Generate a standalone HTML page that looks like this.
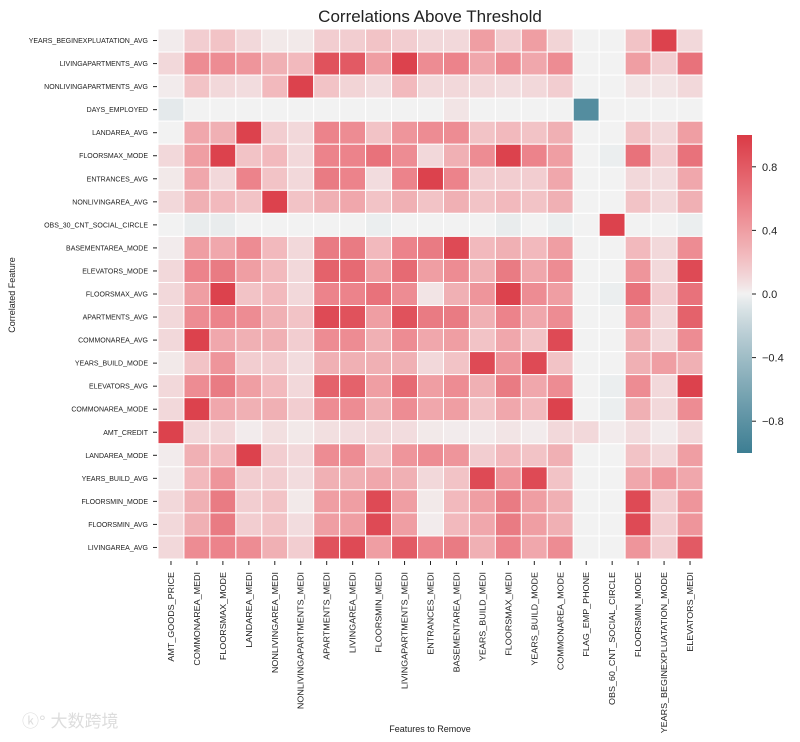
<!DOCTYPE html>
<html><head><meta charset="utf-8"><style>
body{margin:0;background:#fff;}
svg{display:block;font-family:"Liberation Sans","Noto Sans CJK SC",sans-serif;}
</style></head><body>
<svg id="chart" width="800" height="742" viewBox="0 0 800 742">
<text x="430" y="22" text-anchor="middle" font-size="17" fill="#222">Correlations Above Threshold</text>
<text transform="translate(15,295) rotate(-90)" text-anchor="middle" font-size="9" fill="#222">Correlated Feature</text>
<text x="430" y="732" text-anchor="middle" font-size="9" fill="#222">Features to Remove</text>
<text x="22" y="727" font-size="17" fill="#ddd">ⓚ° 大数跨境</text>
<g id="cells"></g>
<g id="ylabels"></g>
<g id="xlabels"></g>
<g id="cbar"></g>
</svg>
<script>
const rowLabels = ["YEARS_BEGINEXPLUATATION_AVG","LIVINGAPARTMENTS_AVG","NONLIVINGAPARTMENTS_AVG","DAYS_EMPLOYED","LANDAREA_AVG","FLOORSMAX_MODE","ENTRANCES_AVG","NONLIVINGAREA_AVG","OBS_30_CNT_SOCIAL_CIRCLE","BASEMENTAREA_MODE","ELEVATORS_MODE","FLOORSMAX_AVG","APARTMENTS_AVG","COMMONAREA_AVG","YEARS_BUILD_MODE","ELEVATORS_AVG","COMMONAREA_MODE","AMT_CREDIT","LANDAREA_MODE","YEARS_BUILD_AVG","FLOORSMIN_MODE","FLOORSMIN_AVG","LIVINGAREA_AVG"];
const colLabels = ["AMT_GOODS_PRICE","COMMONAREA_MEDI","FLOORSMAX_MODE","LANDAREA_MEDI","NONLIVINGAREA_MEDI","NONLIVINGAPARTMENTS_MEDI","APARTMENTS_MEDI","LIVINGAREA_MEDI","FLOORSMIN_MEDI","LIVINGAPARTMENTS_MEDI","ENTRANCES_MEDI","BASEMENTAREA_MEDI","YEARS_BUILD_MEDI","FLOORSMAX_MEDI","YEARS_BUILD_MODE","COMMONAREA_MODE","FLAG_EMP_PHONE","OBS_60_CNT_SOCIAL_CIRCLE","FLOORSMIN_MODE","YEARS_BEGINEXPLUATATION_MODE","ELEVATORS_MEDI"];
const values = [
[0.02,0.15,0.2,0.1,0.03,0.03,0.15,0.15,0.2,0.15,0.1,0.1,0.4,0.15,0.4,0.12,0,0,0.2,0.95,0.1],
[0.1,0.5,0.5,0.45,0.3,0.25,0.85,0.8,0.4,0.95,0.5,0.55,0.35,0.5,0.35,0.5,0,0,0.4,0.15,0.65],
[0.02,0.2,0.1,0.08,0.25,0.95,0.2,0.12,0.08,0.25,0.1,0.1,0.1,0.08,0.1,0.15,0,0,0.05,0.05,0.1],
[-0.05,0,0,0,0,0,0,0,0,0,0,0.05,0,0,0,0,-0.85,0,0,0,0],
[0,0.35,0.3,0.95,0.15,0.1,0.55,0.5,0.2,0.45,0.5,0.5,0.2,0.25,0.2,0.3,0,0,0.2,0.1,0.4],
[0.1,0.4,0.95,0.2,0.25,0.1,0.55,0.55,0.65,0.5,0.1,0.3,0.5,0.95,0.55,0.4,0,-0.02,0.65,0.15,0.65],
[0.03,0.35,0.1,0.55,0.2,0.1,0.6,0.55,0.08,0.55,0.95,0.55,0.15,0.15,0.15,0.35,0,0,0.1,0.08,0.35],
[0.1,0.3,0.25,0.2,0.95,0.2,0.3,0.35,0.2,0.3,0.2,0.3,0.2,0.25,0.2,0.3,0,0,0.2,0.1,0.3],
[0,-0.03,-0.03,0,0,0,0,0,-0.02,0,0,0,0,-0.03,0,-0.02,0,0.95,0,0,-0.02],
[0.02,0.4,0.35,0.5,0.25,0.1,0.6,0.6,0.25,0.55,0.6,0.9,0.25,0.3,0.25,0.4,0,0,0.25,0.1,0.5],
[0.1,0.55,0.6,0.4,0.25,0.1,0.75,0.7,0.4,0.7,0.4,0.5,0.3,0.6,0.35,0.5,0,0,0.45,0.1,0.9],
[0.1,0.4,0.95,0.2,0.25,0.1,0.55,0.55,0.65,0.5,0.05,0.3,0.45,0.95,0.5,0.4,0,-0.02,0.65,0.15,0.65],
[0.1,0.5,0.55,0.5,0.3,0.2,0.9,0.85,0.4,0.85,0.6,0.6,0.3,0.55,0.35,0.5,0,0,0.45,0.1,0.75],
[0.1,0.95,0.35,0.3,0.3,0.15,0.5,0.5,0.3,0.5,0.35,0.4,0.2,0.35,0.2,0.9,0,0,0.3,0.1,0.5],
[0.03,0.2,0.45,0.15,0.15,0.08,0.3,0.3,0.3,0.3,0.1,0.2,0.9,0.45,0.9,0.2,0,0,0.3,0.4,0.3],
[0.1,0.5,0.6,0.4,0.25,0.1,0.75,0.75,0.4,0.7,0.4,0.5,0.3,0.6,0.35,0.5,0,-0.02,0.5,0.1,0.95],
[0.1,0.95,0.35,0.3,0.3,0.15,0.5,0.5,0.3,0.5,0.35,0.4,0.2,0.35,0.25,0.95,0,-0.02,0.3,0.1,0.5],
[0.95,0.1,0.1,0.02,0.07,0.03,0.07,0.08,0.1,0.08,0.03,0.02,0.02,0.05,0.02,0.1,0.1,0.02,0.08,0.02,0.1],
[0.02,0.3,0.25,0.95,0.15,0.1,0.5,0.5,0.2,0.45,0.5,0.45,0.15,0.25,0.2,0.3,0,0,0.2,0.1,0.4],
[0.02,0.25,0.45,0.15,0.15,0.08,0.3,0.3,0.35,0.3,0.1,0.2,0.9,0.45,0.9,0.2,0,0,0.35,0.45,0.35],
[0.1,0.3,0.6,0.15,0.2,0.03,0.4,0.4,0.9,0.4,0.03,0.25,0.4,0.6,0.4,0.3,0,0,0.9,0.15,0.45],
[0.1,0.3,0.6,0.15,0.2,0.08,0.4,0.4,0.9,0.4,0.02,0.25,0.35,0.6,0.4,0.3,0,0,0.9,0.15,0.45],
[0.1,0.5,0.55,0.5,0.3,0.15,0.85,0.9,0.4,0.8,0.55,0.6,0.3,0.55,0.35,0.5,0,0,0.45,0.15,0.8]
];
const cbarTicks = [0.8,0.4,0.0,-0.4,-0.8];

const NS="http://www.w3.org/2000/svg";
const X0=158,X1=703,Y0=29,Y1=559;
const cw=(X1-X0)/colLabels.length, ch=(Y1-Y0)/rowLabels.length;
const xPos=i=>X0+i*cw, yPos=j=>Y0+j*ch;
const CB={x:737,w:15,top:135,bot:453,min:-1,max:1};
const cbY=v=>CB.top+(CB.max-v)/(CB.max-CB.min)*(CB.bot-CB.top);
const RED=[218,58,70],MID=[242,242,242],BLUE=[61,126,147];
function color(v){
  v=Math.max(-1,Math.min(1,v));
  const e=v>=0?RED:BLUE,t=Math.pow(Math.abs(v),0.85);
  const c=MID.map((m,k)=>Math.round(m+(e[k]-m)*t));
  if(v>0){c[0]=Math.min(255,Math.round(c[0]+8*Math.sin(Math.PI*t)));}
  return `rgb(${c[0]},${c[1]},${c[2]})`;
}
function mk(tag,attrs,parent){const el=document.createElementNS(NS,tag);for(const k in attrs)el.setAttribute(k,attrs[k]);parent.appendChild(el);return el;}
const cells=document.getElementById('cells');
values.forEach((row,j)=>row.forEach((v,i)=>{
  const r=mk('rect',{x:xPos(i),y:yPos(j),width:cw,height:ch,fill:color(v),stroke:'#fff','stroke-width':1},cells);
  
  
}));
const yl=document.getElementById('ylabels');
rowLabels.forEach((l,j)=>{
  const y=yPos(j)+ch/2;
  const t=mk('text',{x:148,y:y+2.5,'text-anchor':'end','font-size':7,fill:'#222'},yl);
  t.textContent=l;
  
  
  const tk=mk('line',{x1:153,x2:157,y1:y,y2:y,stroke:'#222','stroke-width':1},yl);
  
  
});
const xl=document.getElementById('xlabels');
colLabels.forEach((l,i)=>{
  const x=xPos(i)+cw/2;
  const t=mk('text',{transform:`translate(${x+3},572) rotate(-90)`,'text-anchor':'end','font-size':8,fill:'#222'},xl);
  t.textContent=l;
  
  
  const len=t.getComputedTextLength();
  if(len>0){t.setAttribute('textLength',(len*1.12).toFixed(1));t.setAttribute('lengthAdjust','spacingAndGlyphs');}
  const tk=mk('line',{x1:x,x2:x,y1:561,y2:565,stroke:'#222','stroke-width':1},xl);
  
  
});
const cb=document.getElementById('cbar');
const defs=mk('defs',{},cb);
const g=mk('linearGradient',{id:'cbg',x1:0,y1:0,x2:0,y2:1},defs);
for(let k=0;k<=40;k++){const v=1-k/20;mk('stop',{offset:(k/40),'stop-color':color(v)},g);}
const cr=mk('rect',{x:CB.x,y:CB.top,width:CB.w,height:CB.bot-CB.top,fill:'url(#cbg)'},cb);


cbarTicks.forEach(v=>{
  const y=cbY(v);
  const tk=mk('line',{x1:CB.x+CB.w,x2:CB.x+CB.w+4,y1:y,y2:y,stroke:'#222'},cb);
  
  
  const t=mk('text',{x:CB.x+CB.w+10,y:y+4,'font-size':11,fill:'#222'},cb);
  t.textContent=(v<0?'\u2212':'')+Math.abs(v).toFixed(1);
  
  
});
</script>
</body></html>
